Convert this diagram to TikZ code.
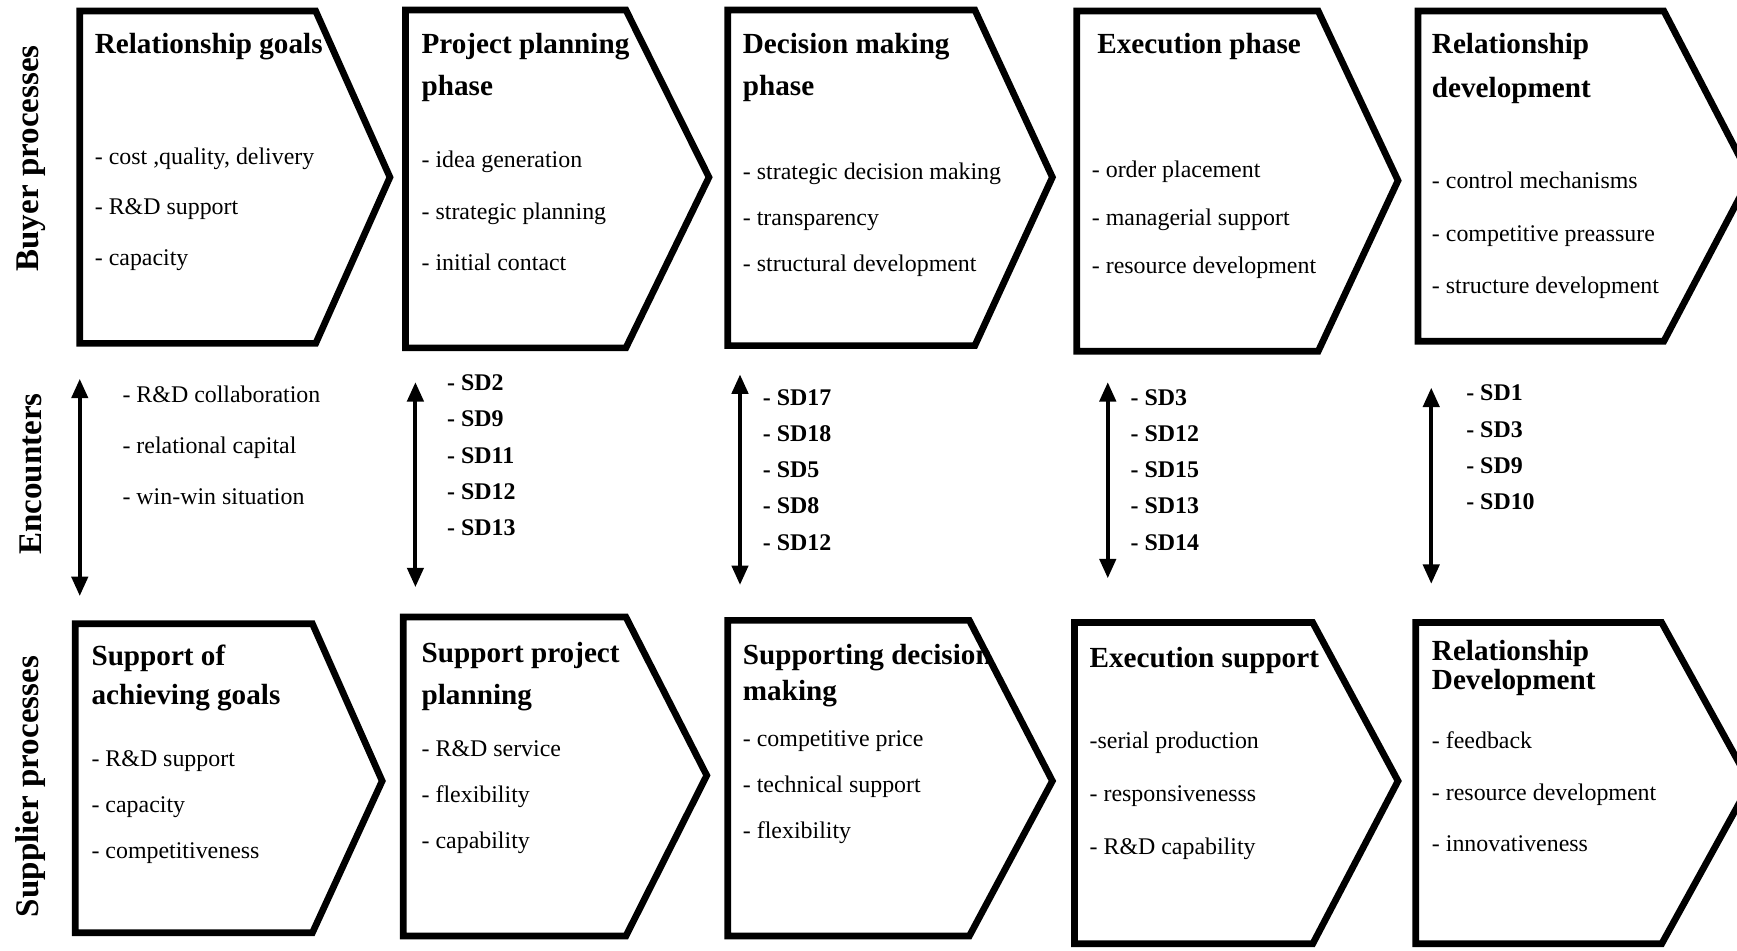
\documentclass[tikz,border=0pt]{standalone}
\usepackage{fontspec}
\setmainfont{Liberation Serif}
\usetikzlibrary{arrows.meta}

\begin{document}
\begin{tikzpicture}[x=1.1078cm, y=-1.1078cm,
  chev/.style={line width=1.9pt},
  ttl/.style={anchor=north west, align=left, inner sep=0pt, font=\bfseries\fontsize{8.3}{#1}\selectfont},
  ttl/.default=12,
  lst/.style={anchor=north west, align=left, inner sep=0pt, font=\fontsize{6.8}{#1}\selectfont},
  sdl/.style={anchor=north west, align=left, inner sep=0pt, font=\bfseries\fontsize{6.8}{#1}\selectfont},
  side/.style={rotate=90, font=\bfseries\fontsize{9.4}{11}\selectfont},
  dbl/.style={line width=1.1pt, >={Triangle[length=5.5pt,width=4.6pt]}, <->}]
\useasboundingbox (0,0) rectangle (15.68,8.58);

% row labels
\node (buy) at (0.28,1.43) [side] {Buyer processes};
\node (enc) at (0.28,4.28) [side] {Encounters};
\node (sup) at (0.28,7.10) [side] {Supplier processes};

% buyer processes
\draw[chev] (0.72,0.10) -- (2.85,0.10) -- (3.52,1.60) -- (2.85,3.10) -- (0.72,3.10) -- cycle;
\draw[chev] (3.66,0.09) -- (5.65,0.09) -- (6.40,1.60) -- (5.65,3.14) -- (3.66,3.14) -- cycle;
\draw[chev] (6.57,0.09) -- (8.80,0.09) -- (9.50,1.60) -- (8.80,3.12) -- (6.57,3.12) -- cycle;
\draw[chev] (9.72,0.10) -- (11.90,0.10) -- (12.62,1.63) -- (11.90,3.17) -- (9.72,3.17) -- cycle;
\draw[chev] (12.80,0.10) -- (15.02,0.10) -- (15.80,1.60) -- (15.02,3.08) -- (12.80,3.08) -- cycle;

\node (b1t) at (0.85,0.29) [ttl] {Relationship goals};
\node (b1l) at (0.85,1.33) [lst=14.3] {- cost ,quality, delivery\\- R\&D support\\- capacity};
\node (b2t) at (3.80,0.29) [ttl] {Project planning\\phase};
\node (b2l) at (3.80,1.36) [lst=14.6] {- idea generation\\- strategic planning\\- initial contact};
\node (b3t) at (6.70,0.29) [ttl] {Decision making\\phase};
\node (b3l) at (6.70,1.46) [lst=13.1] {- strategic decision making\\- transparency\\- structural development};
\node (b4t) at (9.90,0.29) [ttl] {Execution phase};
\node (b4l) at (9.85,1.45) [lst=13.6] {- order placement\\- managerial support\\- resource development};
\node (b5t) at (12.92,0.29) [ttl=12.6] {Relationship\\development};
\node (b5l) at (12.92,1.55) [lst=14.8] {- control mechanisms\\- competitive preassure\\- structure development};

% encounters
\coordinate (a1u) at (0.72,3.42); \coordinate (a1d) at (0.72,5.38);
\coordinate (a2u) at (3.75,3.45); \coordinate (a2d) at (3.75,5.30);
\coordinate (a3u) at (6.68,3.38); \coordinate (a3d) at (6.68,5.28);
\coordinate (a4u) at (10.00,3.45); \coordinate (a4d) at (10.00,5.22);
\coordinate (a5u) at (12.92,3.50); \coordinate (a5d) at (12.92,5.27);
\draw[dbl] (a1u) -- (a1d);
\draw[dbl] (a2u) -- (a2d);
\draw[dbl] (a3u) -- (a3d);
\draw[dbl] (a4u) -- (a4d);
\draw[dbl] (a5u) -- (a5d);

\node (e1) at (1.10,3.48) [lst=14.5] {- R\&D collaboration\\- relational capital\\- win-win situation};
\node (e2) at (4.03,3.38) [sdl=10.25] {- SD2\\- SD9\\- SD11\\- SD12\\- SD13};
\node (e3) at (6.88,3.51) [sdl=10.3] {- SD17\\- SD18\\- SD5\\- SD8\\- SD12};
\node (e4) at (10.20,3.51) [sdl=10.3] {- SD3\\- SD12\\- SD15\\- SD13\\- SD14};
\node (e5) at (13.23,3.47) [sdl=10.3] {- SD1\\- SD3\\- SD9\\- SD10};

% supplier processes
\draw[chev] (0.68,5.63) -- (2.82,5.63) -- (3.45,7.05) -- (2.82,8.42) -- (0.68,8.42) -- cycle;
\draw[chev] (3.64,5.57) -- (5.65,5.57) -- (6.38,7.00) -- (5.65,8.45) -- (3.64,8.45) -- cycle;
\draw[chev] (6.57,5.60) -- (8.75,5.60) -- (9.50,7.05) -- (8.75,8.45) -- (6.57,8.45) -- cycle;
\draw[chev] (9.70,5.62) -- (11.85,5.62) -- (12.62,7.05) -- (11.85,8.52) -- (9.70,8.52) -- cycle;
\draw[chev] (12.78,5.62) -- (15.00,5.62) -- (15.80,7.07) -- (15.00,8.52) -- (12.78,8.52) -- cycle;

\node (s1t) at (0.82,5.82) [ttl=11] {Support of\\achieving goals};
\node (s1l) at (0.82,6.77) [lst=13.1] {- R\&D support\\- capacity\\- competitiveness};
\node (s2t) at (3.80,5.79) [ttl] {Support project\\planning};
\node (s2l) at (3.80,6.68) [lst=13.1] {- R\&D service\\- flexibility\\- capability};
\node (s3t) at (6.70,5.81) [ttl=10.1] {Supporting decision\\making};
\node (s3l) at (6.70,6.59) [lst=13.1] {- competitive price\\- technical support\\- flexibility};
\node (s4t) at (9.83,5.84) [ttl] {Execution support};
\node (s4l) at (9.83,6.60) [lst=15.1] {-serial production\\- responsivenesss\\- R\&D capability};
\node (s5t) at (12.92,5.77) [ttl=8.4] {Relationship\\Development};
\node (s5l) at (12.92,6.60) [lst=14.7] {- feedback\\- resource development\\- innovativeness};
\end{tikzpicture}
\end{document}
